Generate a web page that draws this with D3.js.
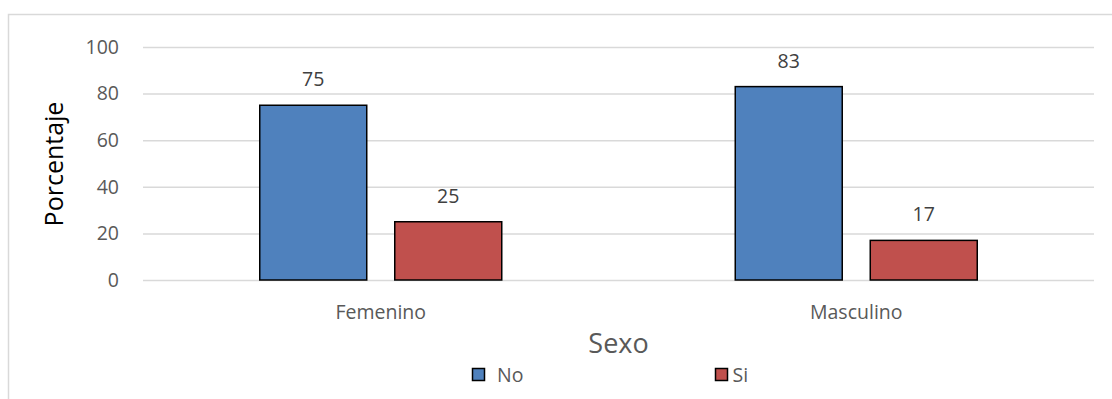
<!DOCTYPE html>
<html>
<head>
<meta charset="utf-8">
<script src="https://cdn.jsdelivr.net/npm/d3@7"></script>
<style>
  body { margin: 0; background: #fff; }
  text { font-family: "Open Sans", sans-serif; }
</style>
</head>
<body>
<svg id="chart" width="1112" height="399"></svg>
<script>
// Chart values
const categories = ['Femenino', 'Masculino'];
const seriesNames = ['No', 'Si'];
const noValues = [75, 83];
const siValues = [25, 17];
const yTicks = [0, 20, 40, 60, 80, 100];
const colors = ['#4f81bd', '#c0504d'];

const width = 1112;
const height = 399;
const plot = { left: 143, right: 1094, top: 47, bottom: 280 };

const svg = d3.select('#chart');

// outer frame (only top and left visible in the crop)
svg.append('path')
  .attr('d', `M8.5,${height}V14.5H${width}`)
  .attr('fill', 'none')
  .attr('stroke', '#d9d9d9')
  .attr('stroke-width', 1.5);

const x = d3.scaleBand()
  .domain(categories)
  .range([plot.left, plot.right]);

const xInner = d3.scaleBand()
  .domain(seriesNames)
  .range([0, 242])
  .paddingInner(0.2075);

const y = d3.scaleLinear()
  .domain([0, 100])
  .range([plot.bottom, plot.top]);

// gridlines + tick labels
const yAxis = svg.append('g')
  .attr('transform', `translate(${plot.left},0)`)
  .call(d3.axisLeft(y).tickValues(yTicks).tickSize(-(plot.right - plot.left)).tickPadding(24));
yAxis.select('.domain').remove();
yAxis.selectAll('.tick line').attr('stroke', '#d9d9d9').attr('stroke-width', 1.5);
yAxis.selectAll('.tick text')
  .attr('fill', '#595959')
  .style('font-size', '19.5px')
  .style('font-family', '"Open Sans", sans-serif');

const rows = categories.map((c, i) => ({
  cat: c,
  vals: [{ s: 'No', v: noValues[i] }, { s: 'Si', v: siValues[i] }]
}));

const groups = svg.append('g').selectAll('g')
  .data(rows)
  .join('g')
  .attr('transform', d => `translate(${x(d.cat) + (x.bandwidth() - 242) / 2},0)`);

groups.selectAll('rect')
  .data(d => d.vals)
  .join('rect')
  .attr('x', d => xInner(d.s))
  .attr('y', d => y(d.v))
  .attr('width', xInner.bandwidth())
  .attr('height', d => y(0) - y(d.v))
  .attr('fill', d => colors[seriesNames.indexOf(d.s)])
  .attr('stroke', '#000')
  .attr('stroke-width', 1.5);

groups.selectAll('text.val')
  .data(d => d.vals)
  .join('text')
  .attr('class', 'val')
  .attr('x', d => xInner(d.s) + xInner.bandwidth() / 2)
  .attr('y', d => y(d.v) - 19)
  .attr('text-anchor', 'middle')
  .attr('fill', '#404040')
  .style('font-size', '19.5px')
  .text(d => d.v);

// category labels
const xAxis = svg.append('g')
  .attr('transform', `translate(0,${plot.bottom})`)
  .call(d3.axisBottom(x).tickSize(0).tickPadding(25));
xAxis.select('.domain').remove();
xAxis.selectAll('.tick text')
  .attr('fill', '#595959')
  .style('font-size', '19.5px')
  .style('font-family', '"Open Sans", sans-serif');

// axis titles
svg.append('text')
  .attr('x', (plot.left + plot.right) / 2)
  .attr('y', 353)
  .attr('text-anchor', 'middle')
  .attr('fill', '#595959')
  .style('font-size', '27px')
  .text('Sexo');

svg.append('text')
  .attr('transform', `translate(63,164) rotate(-90)`)
  .attr('text-anchor', 'middle')
  .attr('fill', '#000')
  .style('font-size', '25px')
  .text('Porcentaje');

// legend
const legendX = [472.5, 715.5];
const legend = svg.append('g').selectAll('g')
  .data(seriesNames)
  .join('g')
  .attr('transform', (d, i) => `translate(${legendX[i]},368.5)`);
legend.append('rect')
  .attr('width', 12)
  .attr('height', 12)
  .attr('fill', (d, i) => colors[i])
  .attr('stroke', '#000')
  .attr('stroke-width', 1.5);
legend.append('text')
  .attr('x', (d, i) => i === 0 ? 24.5 : 17)
  .attr('y', 13)
  .attr('fill', '#595959')
  .style('font-size', '19.5px')
  .text(d => d);
</script>
</body>
</html>
